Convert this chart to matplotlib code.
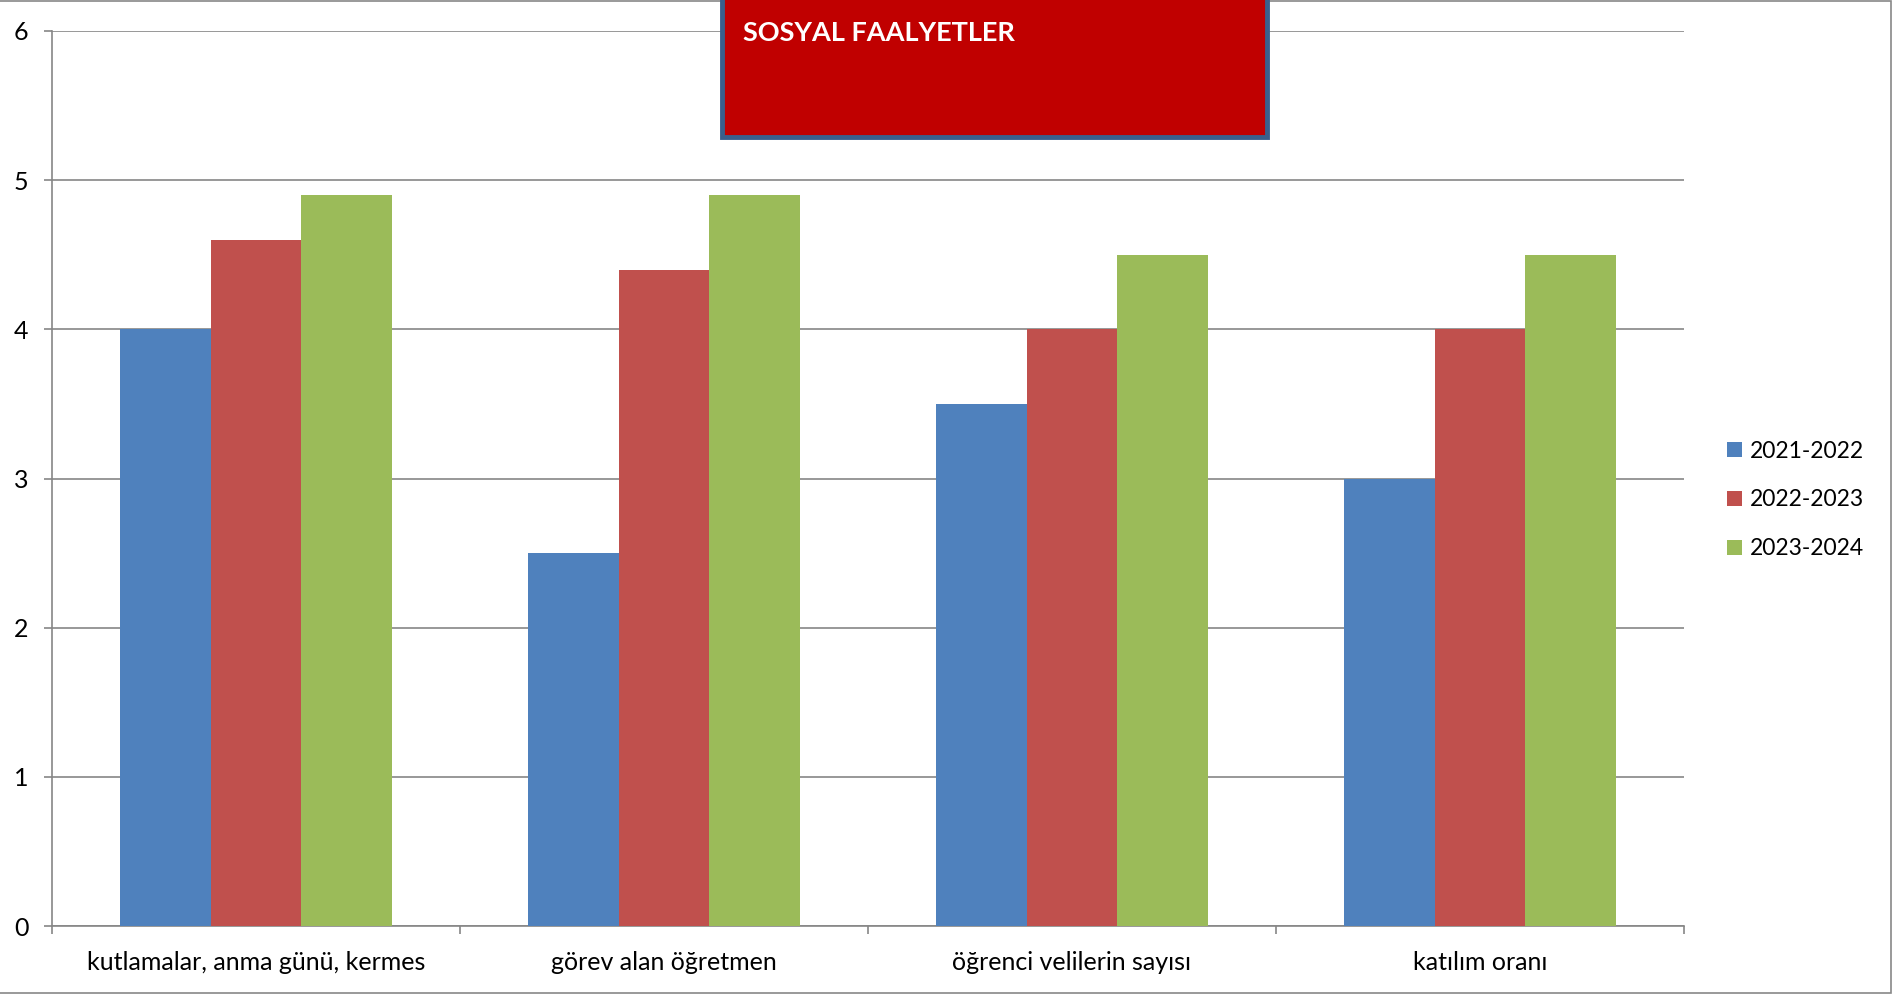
import matplotlib
matplotlib.use("Agg")
import matplotlib.pyplot as plt
import numpy as np
from matplotlib.patches import Rectangle

# Veriler
categories = ["kutlamalar, anma günü, kermes", "görev alan öğretmen",
              "öğrenci velilerin sayısı", "katılım oranı"]
seasons = ["2021-2022", "2022-2023", "2023-2024"]
v_2021 = [4.0, 2.5, 3.5, 3.0]
v_2022 = [4.6, 4.4, 4.0, 4.0]
v_2023 = [4.9, 4.9, 4.5, 4.5]
title = "SOSYAL FAALYETLER"

colors = ["#4F81BD", "#C0504D", "#9BBB59"]
grid_col = "#868686"

plt.rcParams["font.family"] = ["Lato", "DejaVu Sans"]

W, H = 1897, 994
fig = plt.figure(figsize=(W / 100, H / 100), dpi=100)
ax = fig.add_axes([52 / W, (H - 926) / H, (1684 - 52) / W, (926 - 31) / H])

x = np.arange(len(categories))
bw = 1 / 4.5
for i, (vals, lab) in enumerate(zip([v_2021, v_2022, v_2023], seasons)):
    ax.bar(x + (i - 1) * bw, vals, width=bw, color=colors[i], label=lab, zorder=3)

ax.set_xlim(-0.5, len(categories) - 0.5)
ax.set_ylim(0, 6)
ax.set_yticks(range(0, 7))
ax.grid(axis="y", color=grid_col, linewidth=1.2, zorder=0)
ax.set_axisbelow(True)

for s in ["top", "right"]:
    ax.spines[s].set_visible(False)
for s in ["left", "bottom"]:
    ax.spines[s].set_color(grid_col)
    ax.spines[s].set_linewidth(1.2)

ax.set_xticks(x)
ax.set_xticklabels(categories)
ax.set_xticks(np.arange(-0.5, len(categories)), minor=True)
ax.tick_params(axis="x", which="major", length=0, pad=18, labelsize=18)
ax.tick_params(axis="x", which="minor", length=6, width=1.2, color=grid_col)
ax.tick_params(axis="y", length=6, width=1.2, color=grid_col, pad=11, labelsize=18)

leg = ax.legend(loc="center left", bbox_to_anchor=(1727 / W, 1 - 500 / H),
                bbox_transform=fig.transFigure, frameon=False, fontsize=16.5,
                handlelength=0.66, handleheight=0.66, handletextpad=0.35,
                labelspacing=1.22, borderpad=0, borderaxespad=0)

# Başlık kutusu
fig.add_artist(Rectangle((722 / W, 1 - 137 / H), (1267 - 722) / W, 140 / H,
                         transform=fig.transFigure, facecolor="#C00000",
                         edgecolor="#3A5F8B", linewidth=3.5, zorder=5))
fig.text(743 / W, 1 - 33 / H, title, color="white", fontsize=19.5,
         fontweight="bold", va="center", ha="left", zorder=6)

# Çerçeve
fig.add_artist(Rectangle((-10 / W, 1 - 993 / H), (1891 + 10) / W, 992 / H,
                         transform=fig.transFigure, facecolor="none",
                         edgecolor="#888888", linewidth=1.2, zorder=1))

fig.savefig("out.png", dpi=100)
